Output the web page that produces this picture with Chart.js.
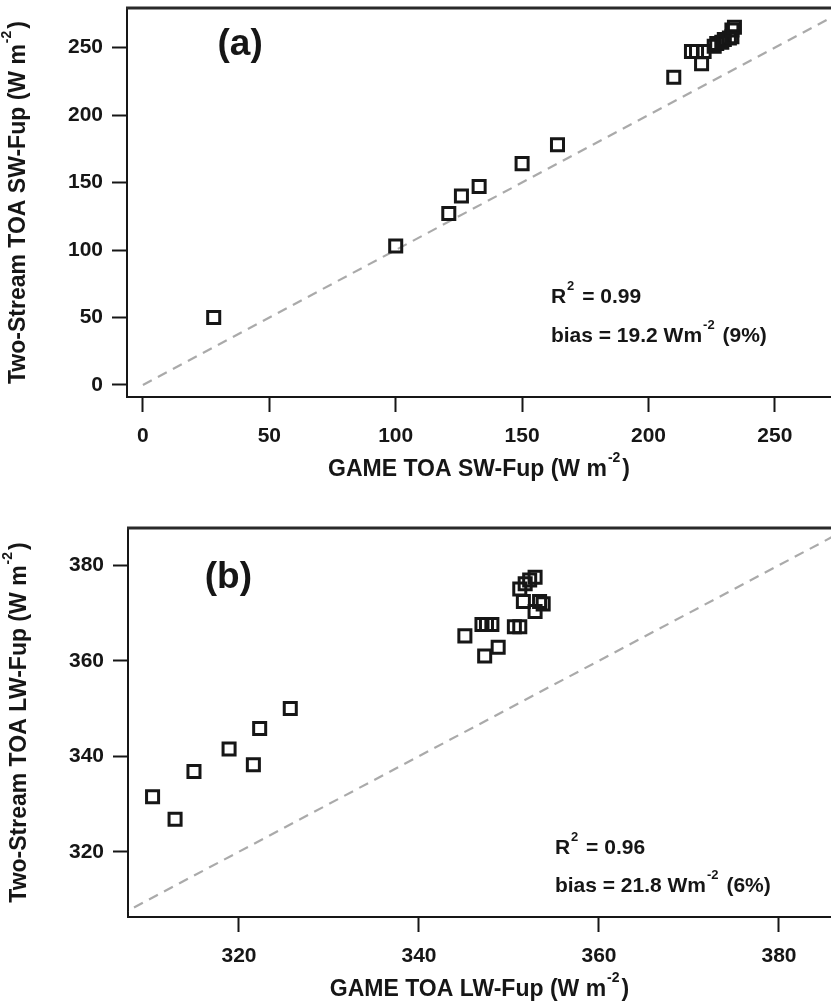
<!DOCTYPE html>
<html>
<head>
<meta charset="utf-8">
<script src="https://cdn.jsdelivr.net/npm/chart.js@4.4.1/dist/chart.umd.min.js"></script>
<style>
  html, body { margin: 0; padding: 0; background: #fff; }
  #wrap { position: relative; width: 831px; height: 1006px; overflow: hidden; }
  canvas { position: absolute; left: 0; }
</style>
</head>
<body>
<div id="wrap">
  <canvas id="chartA" width="831" height="486" style="top:0"></canvas>
  <canvas id="chartB" width="831" height="486" style="top:520px"></canvas>
</div>
<script>
// (a) shortwave, GAME vs two-stream
const swGame      = [28, 100, 121, 126, 133, 150, 164, 210, 217, 219, 222, 221, 226, 227, 229, 230, 232, 233, 233, 234];
const swTwoStream = [50, 103, 127, 140, 147, 164, 178, 228, 247, 247, 247, 238, 251, 253, 254, 256, 257, 258, 263, 265];
const swTicks     = [0, 50, 100, 150, 200, 250];

// (b) longwave
const lwGame      = [310.4, 312.9, 315.0, 318.9, 321.6, 322.3, 325.7, 345.1, 347.0, 347.5, 348.1, 347.3, 348.8,
                     350.6, 351.2, 351.2, 351.8, 352.3, 352.9, 351.6, 352.9, 353.4, 353.8];
const lwTwoStream = [331.5, 326.8, 336.8, 341.5, 338.2, 345.8, 350.0, 365.2, 367.6, 367.6, 367.6, 361.0, 362.8,
                     367.1, 367.1, 375.0, 376.1, 376.9, 377.5, 372.4, 370.3, 372.4, 371.9];
const lwTicks     = [320, 340, 360, 380];

const FONT = '"Liberation Sans", Arial, sans-serif';
const INK = '#161616';

function drawRich(ctx, parts, x, y, size, align) {
  const supSize = Math.round(size * 0.62);
  let w = 0;
  for (const [t, sup] of parts) {
    ctx.font = `bold ${sup ? supSize : size}px ${FONT}`;
    w += ctx.measureText(t).width + (sup ? 3 : 0);
  }
  let cx = align === 'center' ? x - w / 2 : x;
  ctx.textAlign = 'left';
  ctx.textBaseline = 'middle';
  for (const [t, sup] of parts) {
    ctx.font = `bold ${sup ? supSize : size}px ${FONT}`;
    ctx.fillText(t, cx + (sup ? 1 : 0), sup ? y - size * 0.5 : y);
    cx += ctx.measureText(t).width + (sup ? 3 : 0);
  }
}

// titles, panel tag, stats text and the top frame line
const panelText = {
  id: 'panelText',
  afterDraw(chart, args, o) {
    const { ctx, chartArea: a, scales: { x, y } } = chart;
    ctx.save();
    ctx.strokeStyle = '#2a2a2a';
    ctx.lineWidth = 3;
    ctx.beginPath();
    ctx.moveTo(a.left - 1, a.top);
    ctx.lineTo(a.right + 2, a.top);
    ctx.stroke();

    ctx.fillStyle = INK;
    drawRich(ctx, o.xTitle, (a.left + a.right) / 2, o.xTitleY, 23, 'center');
    ctx.save();
    ctx.translate(o.yTitleX, (a.top + a.bottom) / 2);
    ctx.rotate(-Math.PI / 2);
    drawRich(ctx, o.yTitle, 0, 0, 23, 'center');
    ctx.restore();

    ctx.font = `bold 37px ${FONT}`;
    ctx.textAlign = 'left';
    ctx.textBaseline = 'middle';
    ctx.fillText(o.tag, x.getPixelForValue(o.tagAt[0]), y.getPixelForValue(o.tagAt[1]));

    for (const n of o.notes) {
      drawRich(ctx, n.parts, x.getPixelForValue(n.at[0]), y.getPixelForValue(n.at[1]), 21, 'left');
    }
    ctx.restore();
  }
};

function axis(min, max, ticks, fitSize, horizontal) {
  return {
    type: 'linear',
    min: min,
    max: max,
    afterBuildTicks: s => { s.ticks = ticks.map(v => ({ value: v })); },
    afterFit: s => {
      if (horizontal) { s.height = fitSize; s.paddingLeft = 0; s.paddingRight = 0; }
      else { s.width = fitSize; s.paddingTop = 0; s.paddingBottom = 0; }
    },
    border: { display: true, color: INK, width: 2 },
    grid: { display: true, drawOnChartArea: false, drawTicks: true, tickLength: 15, tickWidth: 2, tickColor: INK },
    ticks: {
      color: INK,
      padding: horizontal ? 12 : 9,
      font: { family: FONT, size: 21, weight: 'bold' }
    }
  };
}

function makeChart(id, gx, gy, diag, xs, ys, text) {
  return new Chart(document.getElementById(id), {
    type: 'scatter',
    data: {
      datasets: [
        {
          data: gx.map((v, i) => ({ x: v, y: gy[i] })),
          pointStyle: 'rect',
          pointRadius: 8.5,
          borderColor: INK,
          borderWidth: 3,
          backgroundColor: 'rgba(0,0,0,0)'
        },
        {
          type: 'line',
          data: diag.map(v => ({ x: v, y: v })),
          borderColor: '#aaaaaa',
          borderWidth: 2.2,
          borderDash: [10, 7],
          pointRadius: 0,
          fill: false
        }
      ]
    },
    options: {
      responsive: false,
      animation: false,
      layout: { autoPadding: false, padding: { top: 8, right: 0, bottom: 0, left: 0 } },
      plugins: { legend: { display: false }, tooltip: { enabled: false }, panelText: text },
      scales: { x: xs, y: ys }
    },
    plugins: [panelText]
  });
}

makeChart('chartA', swGame, swTwoStream, [0, 272],
  axis(-6.3, 272.2, swTicks, 89, true),
  axis(-8.9, 279.3, swTicks, 127, false),
  {
    xTitle: [['GAME TOA SW-Fup (W m'], ['-2', true], [')']],
    yTitle: [['Two-Stream TOA SW-Fup (W m'], ['-2', true], [')']],
    xTitleY: 470, yTitleX: 19,
    tag: '(a)', tagAt: [29.5, 252],
    notes: [
      { parts: [['R'], ['2', true], [' = 0.99']], at: [161.4, 65] },
      { parts: [['bias = 19.2 Wm'], ['-2', true], [' (9%)']], at: [161.4, 36] }
    ]
  });

makeChart('chartB', lwGame, lwTwoStream, [305, 387],
  axis(307.67, 385.78, lwTicks, 89, true),
  axis(306.33, 387.79, lwTicks, 128, false),
  {
    xTitle: [['GAME TOA LW-Fup (W m'], ['-2', true], [')']],
    yTitle: [['Two-Stream TOA LW-Fup (W m'], ['-2', true], [')']],
    xTitleY: 470, yTitleX: 20,
    tag: '(b)', tagAt: [316.2, 377.3],
    notes: [
      { parts: [['R'], ['2', true], [' = 0.96']], at: [355.1, 320.8] },
      { parts: [['bias = 21.8 Wm'], ['-2', true], [' (6%)']], at: [355.1, 312.8] }
    ]
  });
</script>
</body>
</html>
